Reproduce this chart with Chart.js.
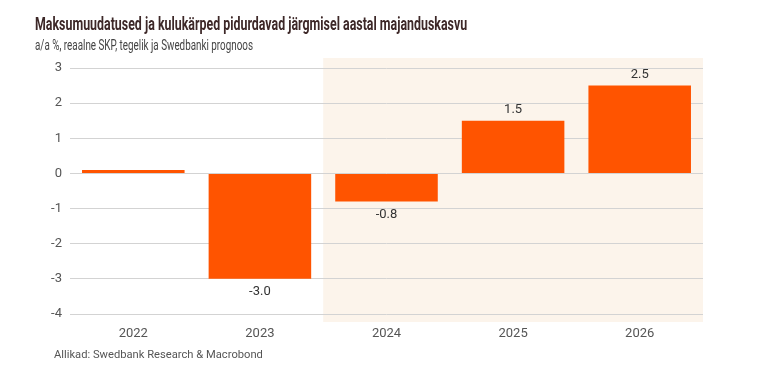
<!DOCTYPE html>
<html>
<head>
<meta charset="utf-8">
<script src="https://cdn.jsdelivr.net/npm/chart.js@4.4.1/dist/chart.umd.min.js"></script>
<style>
  html, body { margin: 0; padding: 0; background: #fff; }
  #wrap { position: relative; width: 768px; height: 374px; overflow: hidden; }
  #chart { position: absolute; left: 0; top: 0; }
  .txt { position: absolute; white-space: nowrap; transform-origin: left center; line-height: 1; }
  #title { left: 35px; top: 12px; font: 700 19px Roboto, sans-serif; color: #3d2828; }
  #subtitle { left: 35px; top: 36px; font: 400 15px Roboto, sans-serif; color: #444; }
  #source { left: 54px; top: 347px; font: 400 11.5px Roboto, sans-serif; color: #555; }
</style>
</head>
<body>
<div id="wrap">
  <canvas id="chart" width="768" height="374"></canvas>
  <div class="txt" id="title" data-w="432">Maksumuudatused ja kulukärped pidurdavad järgmisel aastal majanduskasvu</div>
  <div class="txt" id="subtitle" data-w="218">a/a %, reaalne SKP, tegelik ja Swedbanki prognoos</div>
  <div class="txt" id="source" data-w="209">Allikad: Swedbank Research &amp; Macrobond</div>
</div>
<script>
"use strict";

// andmed
const years = ["2022", "2023", "2024", "2025", "2026"];
const gdpGrowth = [0.1, -3.0, -0.8, 1.5, 2.5];
const barLabels = [null, "-3.0", "-0.8", "1.5", "2.5"];
const forecastFrom = "2024";
const yTicks = [3, 2, 1, 0, -1, -2, -3, -4];

const ORANGE = "#ff5400";
const SHADE = "#fcf4eb";

// pealkirjad kitsamaks, et mahuks nagu originaalis
document.querySelectorAll(".txt").forEach(el => {
  const target = Number(el.dataset.w);
  const s = target / el.offsetWidth;
  el.style.transform = "scaleX(" + s + ")";
});

// prognoosi ala taust
const shadePlugin = {
  id: "shade",
  beforeDraw(chart) {
    const x = chart.scales.x;
    const area = chart.chartArea;
    const idx = years.indexOf(forecastFrom);
    const step = x.getPixelForValue(1) - x.getPixelForValue(0);
    const left = x.getPixelForValue(idx) - step / 2;
    const ctx = chart.ctx;
    ctx.save();
    ctx.fillStyle = SHADE;
    ctx.fillRect(left, area.top - 10, area.right - left, area.bottom - area.top + 18);
    ctx.restore();
  }
};

// väärtused tulpade juurde
const labelPlugin = {
  id: "barLabels",
  afterDatasetsDraw(chart) {
    const ctx = chart.ctx;
    const meta = chart.getDatasetMeta(0);
    ctx.save();
    ctx.font = "13px Roboto, sans-serif";
    ctx.fillStyle = "#333";
    ctx.textAlign = "center";
    ctx.textBaseline = "middle";
    meta.data.forEach((bar, i) => {
      if (!barLabels[i]) return;
      const y = gdpGrowth[i] >= 0 ? bar.y - 11 : bar.y + 13;
      ctx.fillText(barLabels[i], bar.x, y);
    });
    ctx.restore();
  }
};

new Chart(document.getElementById("chart"), {
  type: "bar",
  data: {
    labels: years,
    datasets: [{
      data: gdpGrowth,
      backgroundColor: ORANGE,
      borderWidth: 0,
      categoryPercentage: 0.81,
      barPercentage: 1
    }]
  },
  options: {
    responsive: false,
    animation: false,
    layout: { padding: { left: 0, right: 65, top: 68, bottom: 30 } },
    plugins: { legend: { display: false }, tooltip: { enabled: false } },
    scales: {
      x: {
        grid: { display: false, drawTicks: false },
        border: { display: false },
        ticks: { color: "#555", font: { size: 13, family: "Roboto" }, padding: 12 },
        afterFit: s => { s.height = 30; }
      },
      y: {
        min: -4,
        max: 3,
        afterBuildTicks: s => { s.ticks = yTicks.map(v => ({ value: v })); },
        grid: { color: "#d3d3d3", drawTicks: false },
        border: { display: false },
        ticks: { color: "#555", font: { size: 13, family: "Roboto" }, padding: 8 },
        afterFit: s => { s.width = 70; }
      }
    }
  },
  plugins: [shadePlugin, labelPlugin]
});
</script>
</body>
</html>
